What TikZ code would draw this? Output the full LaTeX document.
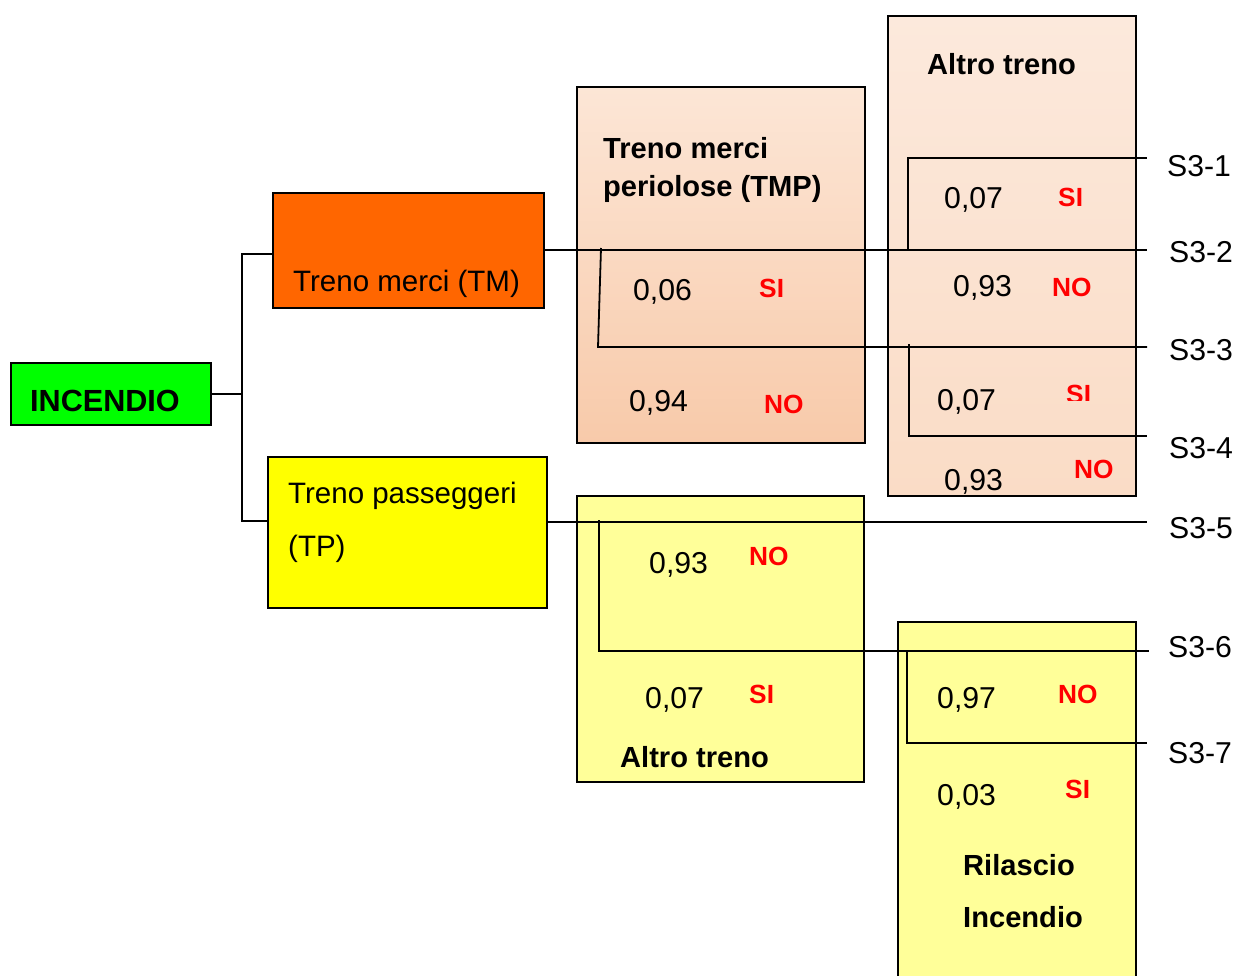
\documentclass[tikz,border=0pt]{standalone}
\usepackage{fontspec}
\setmainfont{Liberation Sans}
\definecolor{incgreen}{HTML}{00FF00}
\definecolor{tmorange}{HTML}{FF6600}
\definecolor{tpyellow}{HTML}{FFFF00}
\definecolor{lyellow}{HTML}{FFFF99}
\definecolor{tmpA}{HTML}{FCE6D6}
\definecolor{tmpB}{HTML}{F8CAAA}
\definecolor{altA}{HTML}{FCE9DC}
\definecolor{altB}{HTML}{FADCC6}
\definecolor{yesnored}{HTML}{FF0000}
\begin{document}
\begin{tikzpicture}[x=1pt,y=-1pt,
  box/.style={draw=black, line width=1.8pt, rectangle, inner sep=0pt, anchor=north west},
  link/.style={draw=black, line width=1.8pt},
  txt/.style={anchor=base west, inner sep=0pt, font=\fontsize{30.2}{35}\selectfont},
  ltxt/.style={anchor=base west, inner sep=0pt, font=\fontsize{29.5}{35}\selectfont},
  btxt/.style={anchor=base west, inner sep=0pt, font=\fontsize{29.1}{35}\selectfont\bfseries},
  yesno/.style={anchor=base west, inner sep=0pt, text=yesnored, font=\fontsize{26.3}{30}\selectfont\bfseries}]
\useasboundingbox (0,0) rectangle (1239,976);
% boxes
\node[box, fill=incgreen, minimum width=200pt, minimum height=62pt] (inc) at (10,362) {};
\node[box, fill=tmorange, minimum width=271pt, minimum height=115pt] (tm) at (272,192) {};
\node[box, fill=tpyellow, minimum width=279pt, minimum height=151pt] (tp) at (267,456) {};
\node[box, top color=tmpA, bottom color=tmpB, minimum width=288pt, minimum height=356pt] (tmp) at (576,86) {};
\node[box, top color=altA, bottom color=altB, minimum width=248pt, minimum height=480pt] (alt1) at (887,15) {};
\node[box, fill=lyellow, minimum width=287pt, minimum height=286pt] (alt2) at (576,495) {};
\node[box, fill=lyellow, minimum width=238pt, minimum height=365pt] (ril) at (897,621) {};
% junction coordinates
\coordinate (jt) at (242,254);
\coordinate (jb) at (242,521);
\coordinate (jm) at (inc.east -| jt);
\coordinate (b1) at (601,248);
\coordinate (b2) at (598,347);
\coordinate (c1) at (908,250);
\coordinate (c2) at (909,344);
\coordinate (d1) at (599,520);
\coordinate (f1) at (907,651);
\coordinate (e1) at (1147,158);
\coordinate (e2) at (1147,250);
\coordinate (e3) at (1147,347);
\coordinate (e4) at (1147,436);
\coordinate (e5) at (1147,522);
\coordinate (e6) at (1149,651);
\coordinate (e7) at (1147,743);
% connectors
\draw[link] (inc.east) -- (jm);
\draw[link] (tm.west |- jt) -- (jt) -- (jb) -- (tp.west |- jb);
\draw[link] (tm.east |- e2) -- (e2);
\draw[link] (b1) -- (b2) -- (e3);
\draw[link] (c1) |- (e1);
\draw[link] (c2) |- (e4);
\draw[link] (tp.east |- e5) -- (e5);
\draw[link] (d1) |- (e6);
\draw[link] (f1) |- (e7);
% main texts
\node[btxt, font=\fontsize{30.6}{35}\selectfont\bfseries] (inct) at (30,411) {INCENDIO};
\node[ltxt] (tmt) at (293,291) {Treno merci (TM)};
\node[ltxt] (tpt1) at (288,503) {Treno passeggeri};
\node[ltxt] (tpt2) at (288,556) {(TP)};
\node[btxt] (tmpt1) at (603,159) {Treno merci};
\node[btxt] (tmpt2) at (603,197) {periolose (TMP)};
\node[btxt] (alt1t) at (927,75) {Altro treno};
\node[btxt] (alt2t) at (620,767) {Altro treno};
\node[btxt] (rilt1) at (963,875) {Rilascio};
\node[btxt] (rilt2) at (963,927) {Incendio};
% probabilities
\node[txt] (p1) at (633,301) {0,06};
\node[yesno] (y1) at (759,298) {SI};
\node[txt] (p2) at (629,411) {0,94};
\node[yesno] (y2) at (764,413) {NO};
\node[txt] (p3) at (944,209) {0,07};
\node[yesno] (y3) at (1058,207) {SI};
\node[txt] (p4) at (953,297) {0,93};
\node[yesno] (y4) at (1052,297) {NO};
\node[txt] (p5) at (937,410) {0,07};
\begin{scope}
\clip (1040,370) rectangle (1110,400);
\node[yesno] (y5) at (1066,403) {SI};
\end{scope}
\node[txt] (p6) at (944,490) {0,93};
\node[yesno] (y6) at (1074,478) {NO};
\node[txt] (p7) at (649,573) {0,93};
\node[yesno] (y7) at (749,565) {NO};
\node[txt] (p8) at (645,708) {0,07};
\node[yesno] (y8) at (749,703) {SI};
\node[txt] (p9) at (937,708) {0,97};
\node[yesno] (y9) at (1058,703) {NO};
\node[txt] (p10) at (937,805) {0,03};
\node[yesno] (y10) at (1065,798) {SI};
% outcome labels
\node[txt] (s1) at (1167,177) {S3-1};
\node[txt] (s2) at (1169,263) {S3-2};
\node[txt] (s3) at (1169,360) {S3-3};
\node[txt] (s4) at (1169,458) {S3-4};
\node[txt] (s5) at (1169,538) {S3-5};
\node[txt] (s6) at (1168,657) {S3-6};
\node[txt] (s7) at (1168,763) {S3-7};
\end{tikzpicture}
\end{document}
